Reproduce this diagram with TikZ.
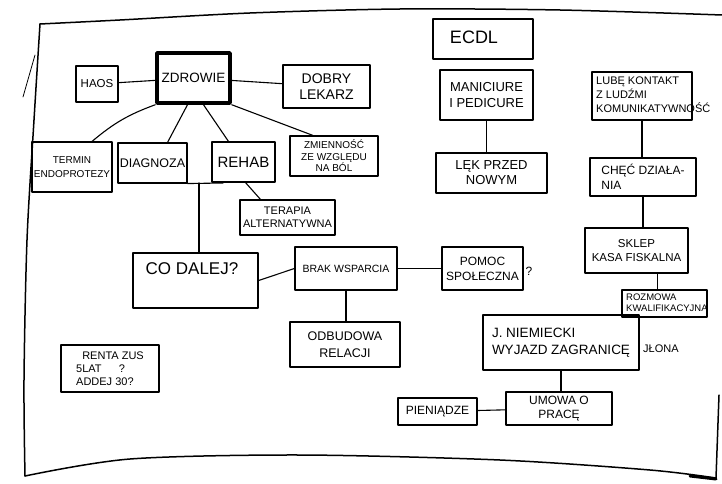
\documentclass[tikz,border=0pt]{standalone}
\usepackage{fontspec}
\setmainfont{Liberation Sans}
\begin{document}
\begin{tikzpicture}[x=1pt,y=-1pt, line join=round, line cap=round,
  box/.style={draw, line width=1.1pt, align=center, inner sep=1pt},
  plainbox/.style={draw, line width=1.1pt, inner sep=0pt},
  txt/.style={align=center, inner sep=0pt},
  link/.style={line width=1.1pt},
  frame/.style={line width=1.5pt}]
\useasboundingbox (0,0) rectangle (722,484);

% paper frame
\draw[frame] plot[smooth] coordinates {(40,24) (120,20) (250,13) (400,9) (560,10) (722,15)};
\draw[frame] plot[smooth] coordinates {(40,24) (34,120) (27,240) (24,380) (25,476)};
\draw[frame] plot[smooth] coordinates {(25,476) (130,459) (300,455) (500,460) (650,470) (716,478)};
\draw[frame] (716,478) -- (719,395);
\draw[line width=0.8pt] (23,97) -- (35,55);
\draw[line width=3pt] (690,476) -- (716,479);

% left cluster
\node[box, minimum width=42, minimum height=36, font=\fontsize{11.5}{13}\selectfont] (haos) at (97,84) {HAOS};
\node[box, line width=3.5pt, minimum width=73, minimum height=50, font=\fontsize{13.5}{15}\selectfont] (zdrowie) at (193.5,78) {ZDROWIE};
\node[box, minimum width=87, minimum height=43, font=\fontsize{14}{16}\selectfont] (dobry) at (326.5,86.5) {DOBRY\\LEKARZ};
\node[box, minimum width=80, minimum height=50, font=\fontsize{10}{14}\selectfont] (termin) at (72,167) {TERMIN\\ENDOPROTEZY};
\node[box, minimum width=69, minimum height=40, font=\fontsize{12.5}{14}\selectfont] (diagnoza) at (152.5,163) {DIAGNOZA};
\node[box, minimum width=63, minimum height=40, font=\fontsize{15}{17}\selectfont] (rehab) at (243.5,162) {REHAB};
\node[box, minimum width=88, minimum height=40, font=\fontsize{10}{11.5}\selectfont] (zmiennosc) at (334,156) {ZMIENNOŚĆ\\ZE WZGLĘDU\\NA BÓL};
\node[box, minimum width=95, minimum height=35, font=\fontsize{11}{13}\selectfont] (terapia) at (287.5,217.5) {TERAPIA\\ALTERNATYWNA};
\node[plainbox, minimum width=125, minimum height=55] (codalej) at (195.5,280.5) {};
\node[txt, font=\fontsize{17}{19}\selectfont] (codalejt) at (192,269) {CO DALEJ?};
\node[box, minimum width=102, minimum height=43, font=\fontsize{10.5}{12}\selectfont] (brak) at (346,268.5) {BRAK WSPARCIA};
\node[box, minimum width=81, minimum height=43, font=\fontsize{12}{15}\selectfont] (pomoc) at (482.5,268.5) {POMOC\\SPOŁECZNA};
\node[txt, font=\fontsize{12}{14}\selectfont] (pomocq) at (529,271) {?};
\node[box, minimum width=110, minimum height=45, font=\fontsize{12.5}{17}\selectfont] (odbudowa) at (345,344.5) {ODBUDOWA\\RELACJI};
\node[box, minimum width=98, minimum height=47, align=left, font=\fontsize{11}{13}\selectfont] (renta) at (110,368.5) {\ \ RENTA ZUS\\5LAT \quad\ ?\\ADDEJ 30?};

% right cluster
\node[plainbox, minimum width=100, minimum height=40] (ecdl) at (483,39) {};
\node[txt, font=\fontsize{18}{20}\selectfont] (ecdlt) at (474,37) {ECDL};
\node[box, minimum width=93, minimum height=50, font=\fontsize{13}{16}\selectfont] (manicure) at (486.5,95) {MANICIURE\\I PEDICURE};
\node[box, minimum width=111, minimum height=40, font=\fontsize{13}{15}\selectfont] (lek) at (491.5,173) {LĘK PRZED\\NOWYM};
\node[plainbox, minimum width=100, minimum height=48] (lube) at (642,96) {};
\node[txt, font=\fontsize{11}{13.5}\selectfont, anchor=west] (lubet) at (596,96) {\begin{tabular}{@{}l@{}}LUBĘ KONTAKT\\ Z LUDŹMI\\KOMUNIKATYWNOŚĆ\end{tabular}};
\node[box, minimum width=106, minimum height=38, align=left, font=\fontsize{12}{15}\selectfont] (chec) at (643,177) {CHĘĆ DZIAŁA-\\NIA};
\node[box, minimum width=103, minimum height=45, font=\fontsize{11.5}{14}\selectfont] (sklep) at (636.5,250.5) {SKLEP\\KASA FISKALNA};
\node[plainbox, minimum width=85, minimum height=27] (rozmowa) at (664.5,303.5) {};
\node[txt, font=\fontsize{9.5}{11}\selectfont, anchor=west] (rozmowat) at (626,303.5) {\begin{tabular}{@{}l@{}}ROZMOWA\\KWALIFIKACYJNA\end{tabular}};
\node[box, minimum width=156, minimum height=55, align=left, font=\fontsize{13.5}{17}\selectfont] (niemiecki) at (561,342.5) {J. NIEMIECKI\\WYJAZD ZAGRANICĘ};
\node[txt, font=\fontsize{11}{13}\selectfont, anchor=west] (jlona) at (643,349) {JŁONA};
\node[box, minimum width=106, minimum height=33, font=\fontsize{12}{14}\selectfont] (umowa) at (559,408.5) {UMOWA O\\PRACĘ};
\node[box, minimum width=79, minimum height=27, font=\fontsize{12}{14}\selectfont] (pieniadze) at (437.5,411.5) {PIENIĄDZE};

% helper coordinates
\coordinate (dext) at (223,183);
\coordinate (dj) at (199,183);

% connectors
\draw[link] (haos) -- (zdrowie);
\draw[link] (zdrowie) -- (dobry);
\draw[link] (zdrowie.south west) to[bend right=10] ([xshift=20pt]termin.north);
\draw[link] ([xshift=-6pt]zdrowie.south) -- ([xshift=15pt]diagnoza.north);
\draw[link] ([xshift=10pt]zdrowie.south) -- ([xshift=-15pt]rehab.north);
\draw[link] (zdrowie.south east) -- ([xshift=-21pt]zmiennosc.north);
\draw[link] ([xshift=2pt]rehab.south) -- ([xshift=-27pt]terapia.north);
\draw[link] (diagnoza.south east) -- (dext);
\draw[link] (dj) -- (dj |- codalej.north);
\draw[link] (codalej.east) -- (brak.west);
\draw[link] (brak) -- (pomoc);
\draw[link] (brak.south) -- (brak.south |- odbudowa.north);
\draw[link] (manicure.south) -- (manicure.south |- lek.north);
\draw[link] (lube.south) -- (lube.south |- chec.north);
\draw[link] (chec.south) -- (chec.south |- sklep.north);
\draw[link] ([xshift=21pt]sklep.south) -- ([xshift=21pt]sklep.south |- rozmowa.north);
\draw[link] (niemiecki.south) -- (niemiecki.south |- umowa.north);
\draw[link] (pieniadze) -- (umowa);
\end{tikzpicture}
\end{document}
